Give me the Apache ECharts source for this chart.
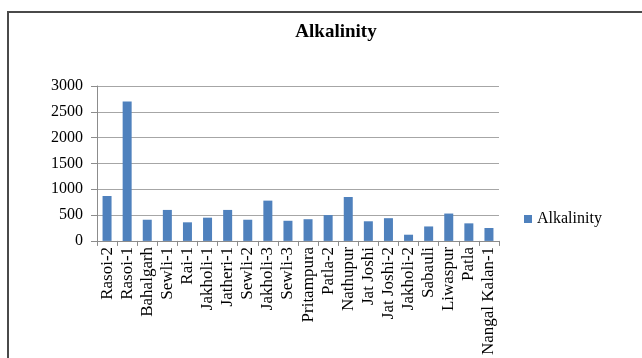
<!DOCTYPE html>
<html>
<head>
<meta charset="utf-8">
<script src="https://cdn.jsdelivr.net/npm/echarts@6/dist/echarts.min.js"></script>
<style>
  html, body { margin: 0; padding: 0; background: #fff; overflow: hidden; }
  #frame { position: absolute; left: 7px; top: 11px; width: 680px; height: 420px; border: 2px solid #4a4a4a; }
  #chart { position: absolute; left: 0; top: 0; width: 642px; height: 358px; }
</style>
</head>
<body>
<div id="frame"></div>
<div id="chart"></div>
<script>
// Sampling sites along the x axis
const sites = [
  'Rasoi-2', 'Rasoi-1', 'Bahalgarh', 'Sewli-1', 'Rai-1', 'Jakholi-1', 'Jatheri-1',
  'Sewli-2', 'Jakholi-3', 'Sewli-3', 'Pritampura', 'Patla-2', 'Nathupur', 'Jat Joshi',
  'Jat Joshi-2', 'Jakholi-2', 'Sabauli', 'Liwaspur', 'Patla', 'Nangal Kalan-1'
];
// Alkalinity measured at each site
const alkalinity = [
  870, 2700, 410, 600, 360, 450, 600,
  410, 780, 390, 420, 500, 850, 380,
  440, 120, 280, 530, 340, 250
];
// Value axis ticks
const yTicks = [0, 500, 1000, 1500, 2000, 2500, 3000];

const serif = '"Liberation Serif", "Times New Roman", serif';
const chart = echarts.init(document.getElementById('chart'), null, { renderer: 'canvas' });
chart.setOption({
  animation: false,
  backgroundColor: 'transparent',
  title: {
    text: 'Alkalinity',
    left: 331, top: 18, textAlign: 'center',
    textStyle: { fontFamily: serif, fontWeight: 'bold', fontSize: 19, color: '#000' }
  },
  legend: {
    data: ['Alkalinity'],
    left: 519, top: 206,
    icon: 'rect', itemWidth: 8, itemHeight: 8, itemGap: 3,
    textStyle: { fontFamily: serif, fontSize: 16, color: '#000' }
  },
  grid: { left: 97, right: 143, top: 86, bottom: 115.3, containLabel: false },
  xAxis: {
    type: 'category',
    data: sites,
    axisLine: { lineStyle: { color: '#8c8c8c', width: 1 } },
    axisTick: { show: true, alignWithLabel: false, length: 5, lineStyle: { color: '#8c8c8c' } },
    axisLabel: {
      interval: 0, rotate: 90, margin: 6,
      fontFamily: serif, fontSize: 17, color: '#000'
    }
  },
  yAxis: {
    type: 'value',
    min: yTicks[0], max: yTicks[yTicks.length - 1], interval: 500,
    axisLine: { show: true, lineStyle: { color: '#8c8c8c', width: 1 } },
    axisTick: { show: true, length: 6, lineStyle: { color: '#8c8c8c' } },
    axisLabel: {
      margin: 14, fontFamily: serif, fontSize: 16, color: '#000',
      formatter: v => String(v)
    },
    splitLine: { lineStyle: { color: '#a6a6a6', width: 1 } }
  },
  series: [{
    name: 'Alkalinity',
    type: 'bar',
    data: alkalinity,
    barWidth: 9,
    itemStyle: { color: '#4f81bd' }
  }]
});
</script>
</body>
</html>
